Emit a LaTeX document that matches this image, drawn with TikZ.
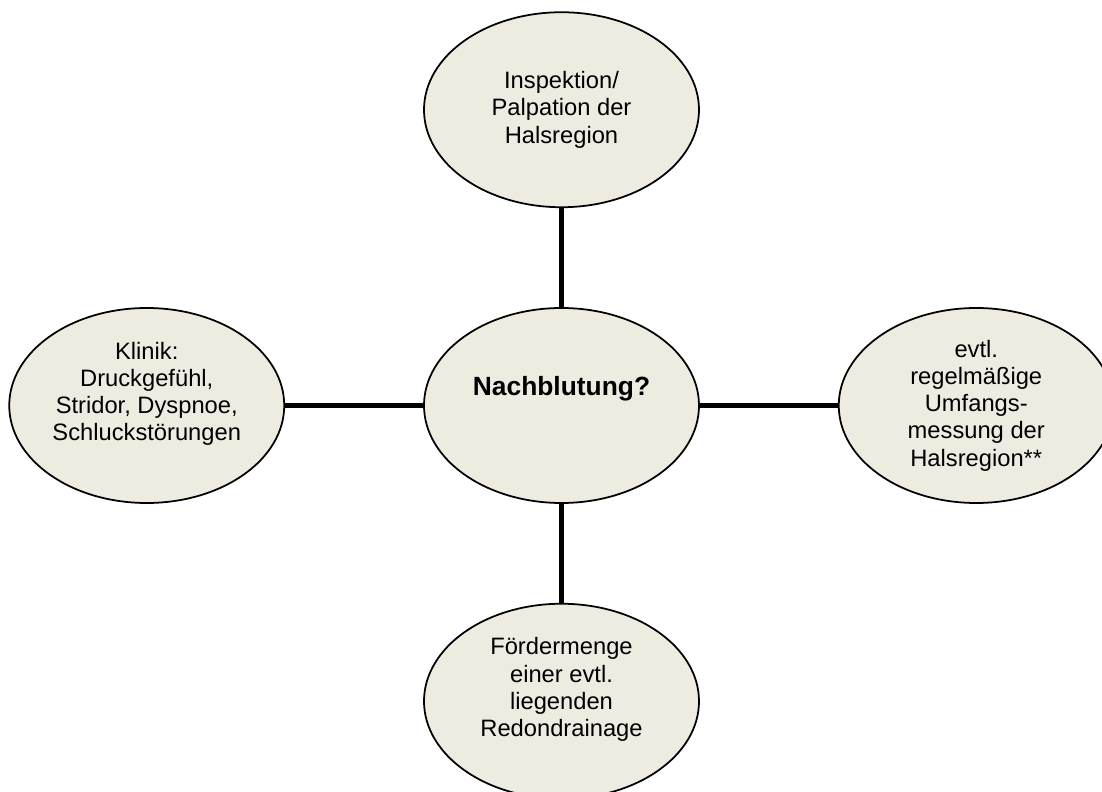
\documentclass[tikz,border=0pt]{standalone}
\usepackage{fontspec}
\setmainfont{Liberation Sans}
\usepackage{tikz}
\usetikzlibrary{shapes.geometric, positioning}
\definecolor{halsbeige}{HTML}{EEECE1}

\begin{document}
\begin{tikzpicture}[
	blob/.style={
		draw,
		ellipse,
		fill=halsbeige,
		line width=1pt,
		minimum width=5.5cm, minimum height=3.9cm,
		inner sep=0pt,
		align=center,
		font=\fontsize{13.5}{15.5}\selectfont
	},
	stiel/.style={
		line width=0.1cm
	},
	node distance=1.98cm and 2.76cm
	]
	\useasboundingbox (0,0) rectangle (22.04,15.84);
	
	\node[blob,font=\fontsize{15}{17}\selectfont\bfseries,text height=10.7pt,text depth=22.6pt] 
	(nach) at (11.23,7.73) {Nachblutung?};
	\node[blob,above=of nach] 
	(insp) {Inspektion/\\Palpation der\\Halsregion};
	\node[blob,left=of nach,text depth=16pt] 
	(klinik) {Klinik:\\Druckgefühl,\\Stridor, Dyspnoe,\\Schluckstörungen};
	\node[blob,right=of nach] 
	(umfang) {evtl.\\regelmäßige\\Umfangs-\\messung der\\Halsregion**};
	\node[blob,below=of nach,text depth=16pt] 
	(redon) {Fördermenge\\einer evtl.\\liegenden\\Redondrainage};
	
	\draw[stiel] (insp) -- (nach);
	\draw[stiel] (klinik) -- (nach);
	\draw[stiel] (nach) -- (umfang);
	\draw[stiel] (nach) -- (redon);
\end{tikzpicture}
\end{document}
